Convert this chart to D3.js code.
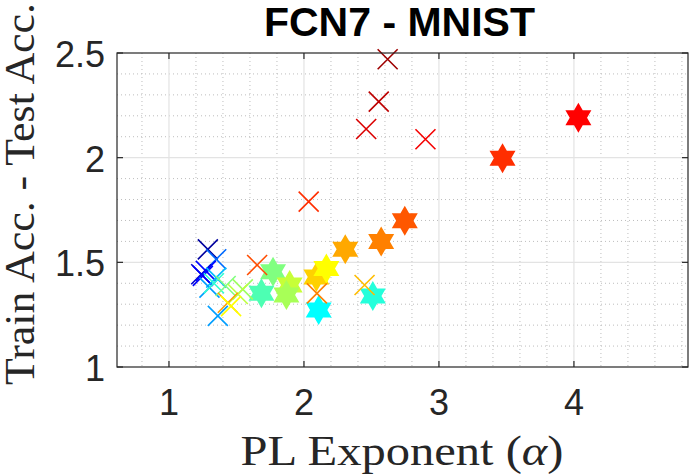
<!DOCTYPE html>
<html>
<head>
<meta charset="utf-8">
<script src="https://cdn.jsdelivr.net/npm/d3@7"></script>
<style>
  body { margin: 0; background: #fff; }
  svg { display: block; }
</style>
</head>
<body>
<div id="chart"></div>
<script>
// x markers (one run per point): alpha, train-test gap, colour value (jet)
var crossAlpha = [1.288, 1.35, 1.239, 1.251, 1.273, 1.35, 1.30, 1.333, 1.42, 1.547, 1.51,
                  1.436, 1.46, 1.362, 1.653, 2.035, 2.096, 2.449, 2.62, 2.554, 2.461, 2.90];
var crossGap   = [1.562, 1.515, 1.443, 1.435, 1.459, 1.427, 1.379, 1.40, 1.387, 1.371, 1.349,
                  1.307, 1.291, 1.244, 1.487, 1.79, 1.352, 1.392, 2.47, 2.268, 2.137, 2.088];
var crossColor = [0.03, 0.23, 0.08, 0.12, 0.13, 0.31, 0.28, 0.42, 0.50, 0.53, 0.56,
                  0.72, 0.625, 0.28, 0.80, 0.83, 0.75, 0.69, 0.97, 0.94, 0.91, 0.885];

// hexagram markers
var starAlpha = [4.033, 3.471, 2.747, 2.572, 2.306, 2.092, 2.166, 2.109, 2.51, 1.771, 1.685, 1.894, 1.87];
var starGap   = [2.191, 1.997, 1.699, 1.599, 1.562, 1.43, 1.47, 1.272, 1.339, 1.455, 1.352, 1.392, 1.344];
var starColor = [0.875, 0.83, 0.79, 0.75, 0.71, 0.67, 0.625, 0.375, 0.41, 0.50, 0.45, 0.57, 0.54];

var xTicks = [1, 2, 3, 4];
var yTicks = [1, 1.5, 2, 2.5];
var yTickLabels = ['1', '1.5', '2', '2.5'];

var W = 693, H = 475;
var axL = 117, axR = 688, axT = 53, axB = 367;

var svg = d3.select('#chart').append('svg')
  .attr('width', W)
  .attr('height', H);

var x = d3.scaleLinear().domain([0.615, 4.845]).range([axL, axR]);
var y = d3.scaleLinear().domain([1, 2.5]).range([axB, axT]);

// matlab jet
var jet = d3.scaleLinear()
  .domain([0, 0.125, 0.375, 0.625, 0.875, 1])
  .range(['#000080', '#0000ff', '#00ffff', '#ffff00', '#ff0000', '#800000']);

// grid
var xMinor = d3.range(0.8, 4.81, 0.2).filter(function(v) { return Math.abs(v - Math.round(v)) > 0.01; });
var yMinor = d3.range(1.1, 2.45, 0.1).filter(function(v) { return Math.abs(v * 2 - Math.round(v * 2)) > 0.01; });

var grid = svg.append('g');
grid.selectAll('line.xm').data(xMinor).enter().append('line')
  .attr('x1', function(d) { return x(d); }).attr('x2', function(d) { return x(d); })
  .attr('y1', axT).attr('y2', axB)
  .attr('stroke', '#bdbdbd').attr('stroke-width', 1).attr('stroke-dasharray', '1,3');
grid.selectAll('line.ym').data(yMinor).enter().append('line')
  .attr('y1', function(d) { return y(d); }).attr('y2', function(d) { return y(d); })
  .attr('x1', axL).attr('x2', axR)
  .attr('stroke', '#bdbdbd').attr('stroke-width', 1).attr('stroke-dasharray', '1,3');
grid.selectAll('line.xg').data(xTicks).enter().append('line')
  .attr('x1', function(d) { return x(d); }).attr('x2', function(d) { return x(d); })
  .attr('y1', axT).attr('y2', axB)
  .attr('stroke', '#e3e3e3').attr('stroke-width', 1.2);
grid.selectAll('line.yg').data([1.5, 2]).enter().append('line')
  .attr('y1', function(d) { return y(d); }).attr('y2', function(d) { return y(d); })
  .attr('x1', axL).attr('x2', axR)
  .attr('stroke', '#e3e3e3').attr('stroke-width', 1.2);

// hexagram path, centred on 0,0
var hexagram = function(R) {
  var r = R / Math.sqrt(3);
  var pts = [];
  for (var i = 0; i < 12; i++) {
    var a = -Math.PI / 2 + i * Math.PI / 6;
    var rr = (i % 2 === 0) ? R : r;
    pts.push([rr * Math.cos(a), rr * Math.sin(a)]);
  }
  return 'M' + pts.map(function(p) { return p[0].toFixed(2) + ',' + p[1].toFixed(2); }).join('L') + 'Z';
};

var stars = starAlpha.map(function(a, i) { return {a: a, g: starGap[i], c: starColor[i]}; });
var crosses = crossAlpha.map(function(a, i) { return {a: a, g: crossGap[i], c: crossColor[i]}; });

svg.append('g').selectAll('path').data(stars).enter().append('path')
  .attr('d', hexagram(15))
  .attr('transform', function(d) { return 'translate(' + x(d.a) + ',' + y(d.g) + ')'; })
  .attr('fill', function(d) { return jet(d.c); })
  .attr('stroke', 'none');

var cs = 10;
svg.append('g').selectAll('path').data(crosses).enter().append('path')
  .attr('d', 'M' + (-cs) + ',' + (-cs) + 'L' + cs + ',' + cs + 'M' + (-cs) + ',' + cs + 'L' + cs + ',' + (-cs))
  .attr('transform', function(d) { return 'translate(' + x(d.a) + ',' + y(d.g) + ')'; })
  .attr('fill', 'none')
  .attr('stroke', function(d) { return jet(d.c); })
  .attr('stroke-width', 1.6);

// box + ticks
var axisColor = '#262626';
svg.append('rect')
  .attr('x', axL).attr('y', axT)
  .attr('width', axR - axL).attr('height', axB - axT)
  .attr('fill', 'none').attr('stroke', axisColor).attr('stroke-width', 1.2);

var tl = 6;
var ticks = svg.append('g').attr('stroke', axisColor).attr('stroke-width', 1.2);
xTicks.forEach(function(t) {
  ticks.append('line').attr('x1', x(t)).attr('x2', x(t)).attr('y1', axB).attr('y2', axB - tl);
  ticks.append('line').attr('x1', x(t)).attr('x2', x(t)).attr('y1', axT).attr('y2', axT + tl);
});
yTicks.forEach(function(t) {
  ticks.append('line').attr('y1', y(t)).attr('y2', y(t)).attr('x1', axL).attr('x2', axL + tl);
  ticks.append('line').attr('y1', y(t)).attr('y2', y(t)).attr('x1', axR).attr('x2', axR - tl);
});

// tick labels
var tickFont = "'Liberation Sans', Arial, Helvetica, sans-serif";
svg.append('g').selectAll('text').data(xTicks).enter().append('text')
  .attr('x', function(d) { return x(d); })
  .attr('y', 415)
  .attr('text-anchor', 'middle')
  .attr('font-family', tickFont).attr('font-size', 36).attr('fill', axisColor)
  .text(function(d) { return d; });
svg.append('g').selectAll('text').data(yTicks).enter().append('text')
  .attr('x', axL - 12)
  .attr('y', function(d) { return y(d) + 14; })
  .attr('text-anchor', 'end')
  .attr('font-family', tickFont).attr('font-size', 36).attr('fill', axisColor)
  .text(function(d, i) { return yTickLabels[i]; });

// title
svg.append('text')
  .attr('x', 399.5).attr('y', 36)
  .attr('text-anchor', 'middle')
  .attr('font-family', tickFont).attr('font-weight', 'bold').attr('font-size', 41)
  .attr('fill', '#000')
  .text('FCN7 - MNIST');

// axis labels
var serif = "'Liberation Serif', 'DejaVu Serif', serif";
var xl = svg.append('text')
  .attr('x', 402).attr('y', 465)
  .attr('text-anchor', 'middle')
  .attr('font-family', serif).attr('font-size', 43).attr('fill', axisColor)
  .attr('textLength', 323).attr('lengthAdjust', 'spacingAndGlyphs');
xl.append('tspan').text('PL Exponent (');
xl.append('tspan').attr('font-style', 'italic').text('\u03b1');
xl.append('tspan').text(')');

svg.append('text')
  .attr('transform', 'translate(34,194) rotate(-90)')
  .attr('text-anchor', 'middle')
  .attr('font-family', serif).attr('font-size', 42).attr('fill', axisColor)
  .attr('textLength', 382).attr('lengthAdjust', 'spacingAndGlyphs')
  .text('Train Acc. - Test Acc.');
</script>
</body>
</html>
